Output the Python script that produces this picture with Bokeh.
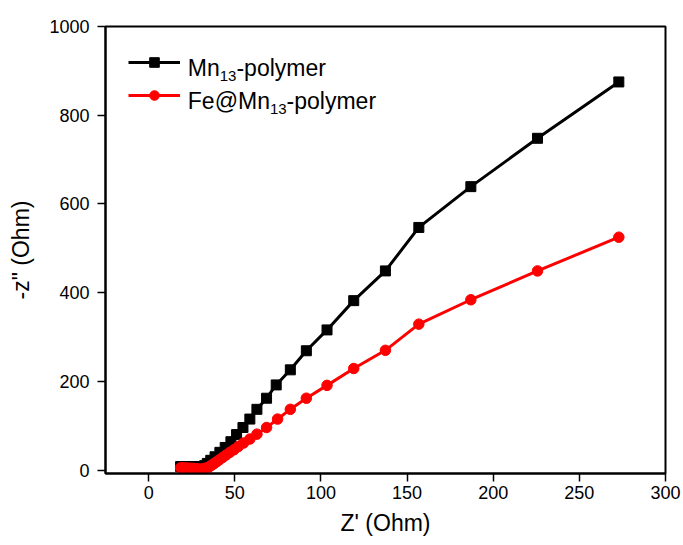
from bokeh.plotting import figure
from bokeh.models import Range1d, Legend, LegendItem, Label, FixedTicker
from bokeh.embed import file_html
from bokeh.resources import INLINE

# ---- data ----
mn_x = [18.5, 19.5, 20.5, 21.5, 22.5, 23.5, 24.5, 25.5, 26.5, 27.5, 28.5, 29.5, 30.5, 31.5,
        32.5, 34.0, 36.0, 38.5, 41.3, 44.4, 47.7, 51.0, 54.7, 58.7, 62.8, 68.4, 74.0, 82.2,
        91.5, 103.5, 119.0, 137.4, 156.8, 187.0, 225.7, 272.9]
mn_y = [8, 8, 8, 8, 8, 8, 8, 8, 8, 8, 7.5, 7.5, 7.5, 8,
        10, 15, 22, 30, 40, 51, 64, 80, 96, 115, 137, 162, 192, 226,
        269, 316, 382, 449, 547, 639, 748, 875]

fe_x = [18.5, 19.5, 20.5, 21.5, 22.5, 23.5, 24.5, 25.5, 26.5, 27.5, 28.5, 29.5, 30.5, 31.5,
        32.5, 33.4, 34.4, 35.5, 36.7, 38.0, 39.5, 41.1, 42.9, 44.9, 47.1, 49.5, 52.0, 55.0,
        58.7, 62.8, 68.4, 74.8, 82.2, 91.5, 103.5, 119.0, 137.4, 156.8, 187.0, 225.7, 272.9]
fe_y = [5, 5, 4.5, 4.5, 4, 4, 4, 3.5, 3.5, 3, 2.5, 2, 2, 2.5,
        3.5, 4.5, 6, 8.5, 11.5, 15, 19, 23.5, 28.5, 34, 40, 46, 53, 61,
        70, 81, 96, 115, 137, 162, 191, 229, 270, 329, 384, 449, 525]

x_ticks = [0, 50, 100, 150, 200, 250, 300]
y_ticks = [0, 200, 400, 600, 800, 1000]

x_title = "Z' (Ohm)"
y_title = '-z" (Ohm)'
series_names = [("Mn", "13", "-polymer"), ("Fe@Mn", "13", "-polymer")]

FONT = "Liberation Sans"

p = figure(width=683, height=545, x_range=Range1d(-25.1, 300), y_range=Range1d(-7.7, 1000),
           output_backend="svg", toolbar_location=None,
           min_border_left=105, min_border_right=18, min_border_top=26, min_border_bottom=72)
p.grid.visible = False
p.outline_line_color = "black"
p.outline_line_width = 2
p.background_fill_color = "white"
p.border_fill_color = "white"

for ax in (p.xaxis[0], p.yaxis[0]):
    ax.axis_line_width = 2
    ax.major_tick_in = 0
    ax.major_tick_out = 8
    ax.major_tick_line_width = 1.5
    ax.minor_tick_line_color = None
    ax.major_label_text_font = FONT
    ax.major_label_text_font_size = "18px"
    ax.major_label_text_color = "black"
    ax.axis_label_text_font = FONT
    ax.axis_label_text_font_size = "23px"
    ax.axis_label_text_font_style = "normal"
    ax.axis_label_text_color = "black"

p.xaxis[0].ticker = FixedTicker(ticks=x_ticks)
p.yaxis[0].ticker = FixedTicker(ticks=y_ticks)
p.xaxis[0].axis_label = x_title
p.yaxis[0].axis_label = y_title
p.xaxis[0].major_label_standoff = 4
p.yaxis[0].major_label_standoff = 8
p.xaxis[0].axis_label_standoff = 8
p.yaxis[0].axis_label_standoff = 12

mn_line = p.line(mn_x, mn_y, line_color="black", line_width=3)
mn_pts = p.scatter(mn_x, mn_y, marker="square", size=10, fill_color="black", line_color="black")
fe_line = p.line(fe_x, fe_y, line_color="#ff0000", line_width=3)
fe_pts = p.scatter(fe_x, fe_y, marker="circle", size=10.5, fill_color="#ff0000", line_color="#ff0000")

legend = Legend(items=[LegendItem(label=" ", renderers=[mn_line, mn_pts]),
                       LegendItem(label=" ", renderers=[fe_line, fe_pts])],
                location=(23.3, 366.3), glyph_width=52, glyph_height=24, label_height=24,
                spacing=9, padding=0, margin=0, label_standoff=0, label_width=1,
                border_line_color=None, background_fill_alpha=0, label_text_font_size="4px")
p.add_layout(legend)

# Arial / Liberation Sans advance widths (em)
W = {"M": .833, "n": .556, "F": .611, "e": .556, "@": 1.015, "1": .556, "3": .556,
     "-": .333, "p": .556, "o": .556, "l": .222, "y": .5, "m": .833, "r": .333}

def tw(s, size):
    return sum(W.get(c, .556) for c in s) * size

MAIN, SUB = 23, 15
text_x = 82.3
baselines = [405.7, 372.4]
for (a, b, c), base in zip(series_names, baselines):
    x0 = text_x
    p.add_layout(Label(x=x0, y=base, x_units="screen", y_units="screen", text=a,
                       text_font=FONT, text_font_size=f"{MAIN}px", text_baseline="alphabetic",
                       text_color="black"))
    x1 = x0 + tw(a, MAIN)
    p.add_layout(Label(x=x1, y=base - 8, x_units="screen", y_units="screen", text=b,
                       text_font=FONT, text_font_size=f"{SUB}px", text_baseline="alphabetic",
                       text_color="black"))
    x2 = x1 + tw(b, SUB)
    p.add_layout(Label(x=x2, y=base, x_units="screen", y_units="screen", text=c,
                       text_font=FONT, text_font_size=f"{MAIN}px", text_baseline="alphabetic",
                       text_color="black"))

open("out.html", "w").write(file_html(p, INLINE))
